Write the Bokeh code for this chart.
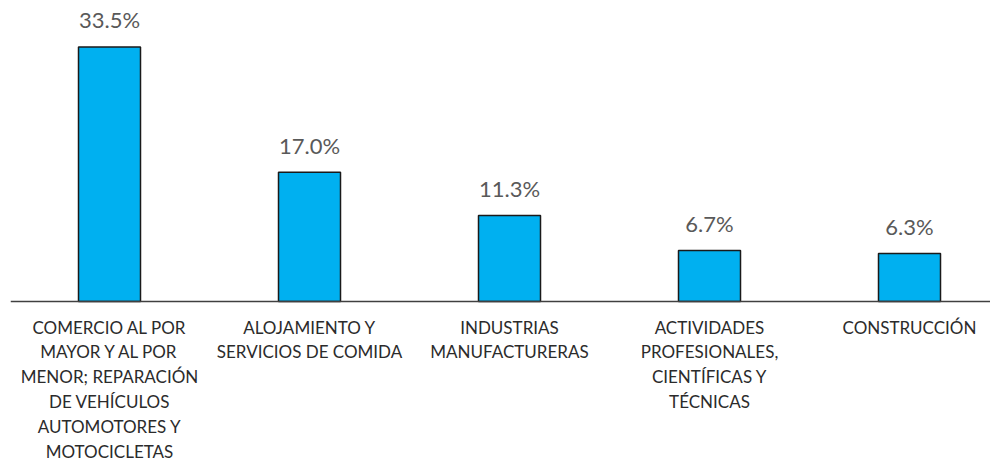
from bokeh.plotting import figure
from bokeh.models import ColumnDataSource, Range1d, Span
from bokeh.core.properties import value
from bokeh.embed import file_html
from bokeh.resources import INLINE

categories = [
    "COMERCIO AL POR\nMAYOR Y AL POR\nMENOR; REPARACIÓN\nDE VEHÍCULOS\nAUTOMOTORES Y\nMOTOCICLETAS",
    "ALOJAMIENTO Y\nSERVICIOS DE COMIDA",
    "INDUSTRIAS\nMANUFACTURERAS",
    "ACTIVIDADES\nPROFESIONALES,\nCIENTÍFICAS Y\nTÉCNICAS",
    "CONSTRUCCIÓN",
]
values = [33.5, 17.0, 11.3, 6.7, 6.3]
value_labels = [f"{v:.1f}%" for v in values]

xs = list(range(len(categories)))
src = ColumnDataSource(dict(x=xs, top=values, cat=categories, lab=value_labels,
                            zero=[0] * len(xs)))

px_per_unit = 7.6
frame_h = 464
base_from_top = 301
y_end = base_from_top / px_per_unit
y_start = -(frame_h - base_from_top) / px_per_unit

p = figure(width=990, height=464, output_backend="svg", toolbar_location=None,
           x_range=Range1d(-0.495, 4.405), y_range=Range1d(y_start, y_end),
           min_border_left=10, min_border_right=0, min_border_top=0, min_border_bottom=0)
p.axis.visible = False
p.grid.visible = False
p.outline_line_color = None
p.background_fill_color = "white"

p.vbar(x="x", top="top", bottom=0, width=0.31, source=src,
       fill_color="#00B0F0", line_color="#1a1a1a", line_width=1.5)

p.add_layout(Span(location=0, dimension="width", line_color="#404040", line_width=1.5))

p.text(x="x", y="top", text="lab", source=src, text_align="center",
       text_baseline="alphabetic", y_offset=-27,
       text_font=value("Lato"), text_font_size="22px", text_color="#595959")

p.text(x="x", y="zero", text="cat", source=src, text_align="center",
       text_baseline="top", y_offset=15, text_line_height=1.19,
       text_font=value("Lato"), text_font_size="17px", text_color="#2b2b2b")

open("out.html", "w").write(file_html(p, INLINE))
